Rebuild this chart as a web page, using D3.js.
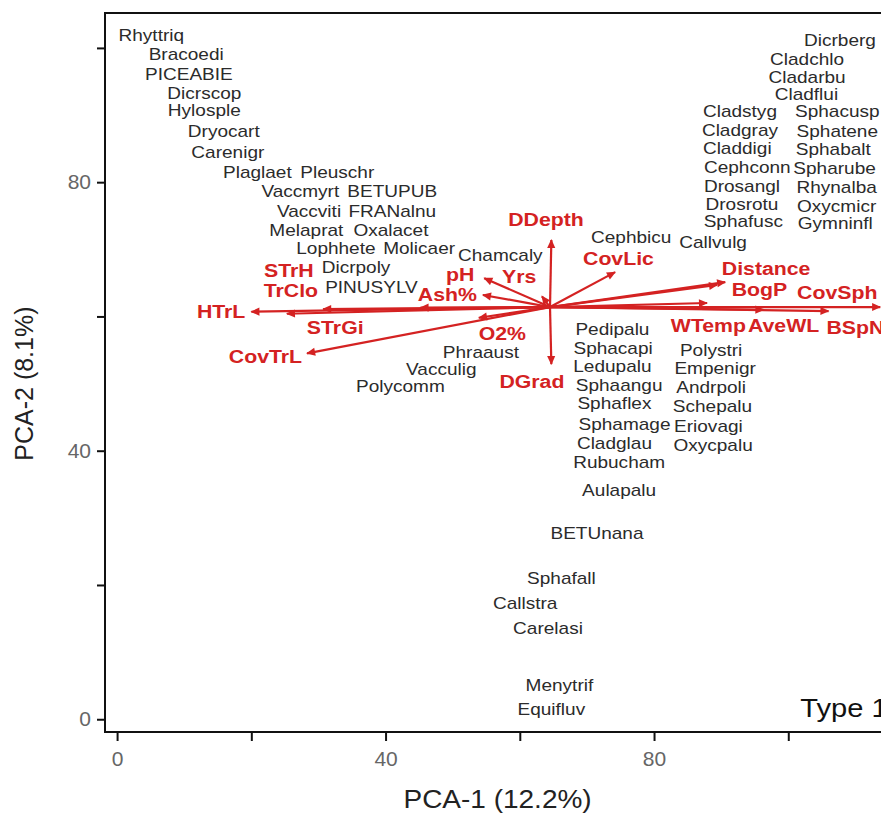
<!DOCTYPE html>
<html>
<head>
<meta charset="utf-8">
<script src="https://cdn.jsdelivr.net/npm/d3@7"></script>
<style>
  body { margin: 0; background: #fff; }
  svg { display: block; font-family: Arial, "Liberation Sans", sans-serif; }
</style>
</head>
<body>
<svg id="chart"></svg>
<script>
// PCA biplot, species scores + environmental vectors

const speciesNames = [
  'Rhyttriq', 'Bracoedi', 'PICEABIE', 'Dicrscop', 'Hylosple', 'Dryocart', 'Carenigr',
  'Plaglaet', 'Pleuschr', 'Vaccmyrt', 'BETUPUB', 'Vaccviti', 'FRANalnu', 'Melaprat',
  'Oxalacet', 'Lophhete', 'Molicaer', 'Dicrpoly', 'PINUSYLV', 'Chamcaly', 'Cephbicu',
  'Callvulg', 'Dicrberg', 'Cladchlo', 'Cladarbu', 'Cladflui', 'Cladstyg', 'Cladgray',
  'Claddigi', 'Cephconn', 'Drosangl', 'Drosrotu', 'Sphafusc', 'Sphacusp', 'Sphatene',
  'Sphabalt', 'Spharube', 'Rhynalba', 'Oxycmicr', 'Gymninfl', 'Phraaust', 'Vacculig',
  'Polycomm', 'Pedipalu', 'Sphacapi', 'Ledupalu', 'Sphaangu', 'Sphaflex', 'Sphamage',
  'Cladglau', 'Rubucham', 'Polystri', 'Empenigr', 'Andrpoli', 'Schepalu', 'Eriovagi',
  'Oxycpalu', 'Aulapalu', 'BETUnana', 'Sphafall', 'Callstra', 'Carelasi', 'Menytrif',
  'Equifluv'
]
const speciesPC1 = [
  5.1, 10.3, 10.7, 13.0, 13.0, 15.9, 16.5,
  20.9, 32.8, 27.3, 41.0, 28.6, 41.0, 28.2,
  40.8, 32.6, 45.0, 35.6, 37.9, 57.1, 76.6,
  88.8, 107.7, 102.8, 102.8, 102.7, 92.8, 92.8,
  92.4, 93.9, 93.1, 93.1, 93.3, 107.3, 107.3,
  106.7, 106.9, 107.2, 107.2, 107.0, 54.2, 48.3,
  42.2, 73.8, 73.9, 73.8, 74.8, 74.1, 75.6,
  74.1, 74.8, 88.5, 89.1, 88.5, 88.7, 88.1,
  88.8, 74.8, 71.5, 66.2, 60.8, 64.2, 65.9,
  64.7
]
const speciesPC2 = [
  101.9, 99.1, 96.1, 93.3, 90.8, 87.6, 84.5,
  81.5, 81.5, 78.7, 78.7, 75.7, 75.7, 72.9,
  72.9, 70.2, 70.2, 67.4, 64.4, 69.2, 71.8,
  71.1, 101.2, 98.4, 95.7, 93.1, 90.6, 87.8,
  85.1, 82.3, 79.4, 76.8, 74.2, 90.6, 87.6,
  84.9, 82.1, 79.3, 76.5, 73.9, 54.7, 52.2,
  49.6, 58.1, 55.3, 52.6, 49.8, 47.1, 44.0,
  41.1, 38.3, 55.0, 52.3, 49.5, 46.6, 43.7,
  40.8, 34.1, 27.7, 21.0, 17.3, 13.6, 5.1,
  1.5
]

// environmental vectors: origin, arrow tips, label positions
const vecOrigin = [64.5, 61.4]
const envNames = [
  'DDepth', 'DGrad', 'Yrs', 'pH', 'Ash%', 'O2%', 'CovTrL', 'HTrL', 'STrGi', 'TrClo',
  'STrH', 'CovLic', 'Distance', 'BogP', 'WTemp', 'AveWL', 'BSpN', 'CovSph'
]
const envPC1 = [
  64.7, 64.7, 63.3, 54.7, 54.5, 53.9, 28.3, 20.0, 25.3, 30.7,
  45.2, 74.2, 90.6, 89.4, 87.9, 96.3, 106.0, 113.7
]
const envPC2 = [
  71.4, 52.9, 63.0, 65.7, 63.2, 59.8, 54.5, 60.7, 60.4, 61.1,
  61.3, 66.6, 65.1, 64.7, 62.0, 61.0, 60.8, 61.4
]
const envLabelPC1 = [
  63.9, 61.8, 59.9, 51.1, 49.2, 57.4, 22.1, 15.5, 32.5, 25.9,
  25.6, 74.7, 96.7, 95.7, 88.1, 99.3, 110.0, 107.3
]
const envLabelPC2 = [
  74.4, 50.4, 65.9, 66.3, 63.3, 57.5, 54.1, 60.8, 58.4, 63.9,
  66.9, 68.7, 67.2, 64.1, 58.7, 58.7, 58.4, 63.6
]

const xTicks = [0, 20, 40, 60, 80, 100]
const yTicks = [0, 20, 40, 60, 80, 100]
const labelledTicks = [0, 40, 80]

const width = 881
const height = 816
const red = '#d42222'
const stretch = 1.12

const svg = d3.select('#chart').attr('width', width).attr('height', height)

const x = d3.scaleLinear().domain([-1.8, 115.9]).range([105, 895])
const y = d3.scaleLinear().domain([-1.9, 105.2]).range([732, 13])

// frame
svg.append('rect')
  .attr('x', x.range()[0])
  .attr('y', y.range()[1])
  .attr('width', x.range()[1] - x.range()[0])
  .attr('height', y.range()[0] - y.range()[1])
  .attr('fill', 'none')
  .attr('stroke', '#111')
  .attr('stroke-width', 2)

const fmt = d => (labelledTicks.includes(d) ? d : '')

const xAxis = svg.append('g')
  .attr('transform', `translate(0,${y.range()[0]})`)
  .call(d3.axisBottom(x).tickValues(xTicks).tickFormat(fmt).tickSize(9).tickPadding(10))
const yAxis = svg.append('g')
  .attr('transform', `translate(${x.range()[0]},0)`)
  .call(d3.axisLeft(y).tickValues(yTicks).tickFormat(fmt).tickSize(8).tickPadding(6))

;[xAxis, yAxis].forEach(ax => {
  ax.select('.domain').remove()
  ax.selectAll('line').attr('stroke', '#111').attr('stroke-width', 2)
  ax.selectAll('text')
    .attr('font-size', 21)
    .attr('fill', '#666')
    .attr('font-family', 'Arial, "Liberation Sans", sans-serif')
})

// axis titles
svg.append('text')
  .attr('transform', `translate(${(x(0) + x(80)) / 2 + 112},808) scale(${stretch},1)`)
  .attr('text-anchor', 'middle')
  .attr('font-size', 25)
  .attr('fill', '#222')
  .text('PCA-1 (12.2%)')

svg.append('text')
  .attr('transform', `translate(33,${y(50)}) rotate(-90)`)
  .attr('text-anchor', 'middle')
  .attr('font-size', 25)
  .attr('fill', '#222')
  .text('PCA-2 (8.1%)')

// species labels
svg.append('g')
  .selectAll('text')
  .data(speciesNames)
  .join('text')
  .attr('transform', (d, i) =>
    `translate(${x(speciesPC1[i])},${y(speciesPC2[i])}) scale(${stretch},1)`)
  .attr('text-anchor', 'middle')
  .attr('dy', '0.35em')
  .attr('font-size', 17)
  .attr('fill', '#2b2b2b')
  .text(d => d)

// arrows
svg.append('defs').append('marker')
  .attr('id', 'head')
  .attr('viewBox', '0 -5 10 10')
  .attr('refX', 9)
  .attr('refY', 0)
  .attr('markerWidth', 10)
  .attr('markerHeight', 9)
  .attr('markerUnits', 'userSpaceOnUse')
  .attr('orient', 'auto')
  .append('path')
  .attr('d', 'M0,-4.5L10,0L0,4.5Z')
  .attr('fill', red)

svg.append('g')
  .selectAll('line')
  .data(envNames)
  .join('line')
  .attr('x1', x(vecOrigin[0]))
  .attr('y1', y(vecOrigin[1]))
  .attr('x2', (d, i) => x(envPC1[i]))
  .attr('y2', (d, i) => y(envPC2[i]))
  .attr('stroke', red)
  .attr('stroke-width', 2.2)
  .attr('marker-end', 'url(#head)')

svg.append('g')
  .selectAll('text')
  .data(envNames)
  .join('text')
  .attr('transform', (d, i) =>
    `translate(${x(envLabelPC1[i])},${y(envLabelPC2[i])}) scale(${stretch},1)`)
  .attr('text-anchor', 'middle')
  .attr('dy', '0.35em')
  .attr('font-size', 19)
  .attr('font-weight', 'bold')
  .attr('fill', red)
  .text(d => d)

// panel tag
svg.append('text')
  .attr('transform', `translate(${x(114.8)},${y(0.4)}) scale(${stretch},1)`)
  .attr('text-anchor', 'end')
  .attr('font-size', 26)
  .attr('fill', '#111')
  .text('Type 1')
</script>
</body>
</html>
